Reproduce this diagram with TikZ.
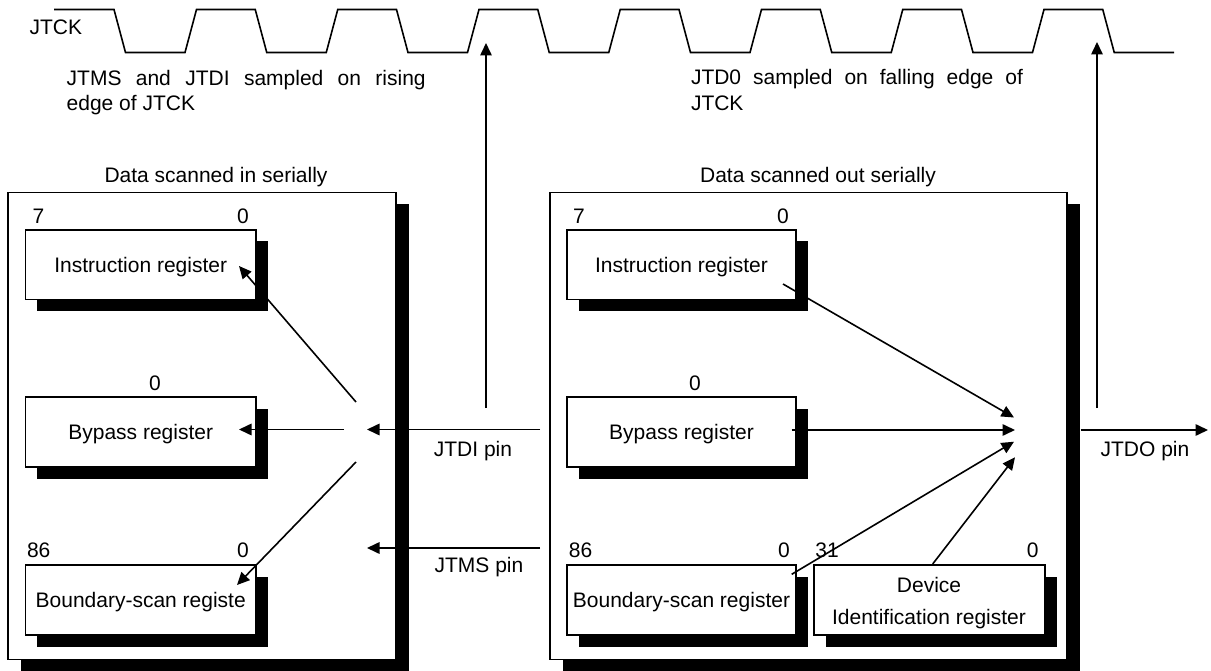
\documentclass[tikz,border=0pt]{standalone}
\usepackage{fontspec}
\setmainfont{Liberation Sans}
\usetikzlibrary{arrows.meta,shadows}
\begin{document}
\begin{tikzpicture}[x=1pt,y=-1pt,
  every node/.style={font=\fontsize{21}{25.5}\selectfont, inner sep=0pt, outer sep=0pt},
  bigbox/.style={draw, fill=white, line width=1.6pt,
    drop shadow={shadow xshift=12.5pt,shadow yshift=-11pt,fill=black,opacity=1}},
  regbase/.style={draw, fill=white, line width=1.6pt, minimum height=70pt,
    drop shadow={shadow xshift=11.5pt,shadow yshift=-11.5pt,fill=black,opacity=1}},
  regbox/.style={regbase, text height=15pt, text depth=0pt},
  arr/.style={line width=1.6pt, -{Triangle[length=12.5pt,width=11.5pt]}},
  lbl/.style={anchor=base},
]
\useasboundingbox (0,0) rectangle (1211,671);

% outer boxes
\node[bigbox, minimum width=388pt, minimum height=467pt] (inbox) at (202,426.1) {};
\node[bigbox, minimum width=517pt, minimum height=467pt] (outbox) at (808.5,426.1) {};
\node[lbl] (din) at (216,183) {Data scanned in serially};
\node[lbl] (dout) at (818,183) {Data scanned out serially};

% left registers
\node[regbox, minimum width=230.5pt, minimum height=69.5pt] (lir) at (140.75,264.75) {Instruction register};
\node[regbox, minimum width=230.5pt] (lbp) at (140.75,432) {Bypass register};
\node[regbox, minimum width=230.5pt] (lbs) at (140.75,600) {Boundary-scan registe};
\node[lbl] (l7) at (38.5,224) {7};
\node[lbl] (l0a) at (243,224) {0};
\node[lbl] (l0b) at (155,390.5) {0};
\node[lbl] (l86) at (38.7,557) {86};
\node[lbl] (l0c) at (243,557) {0};

% right registers
\node[regbox, minimum width=229pt, minimum height=69.5pt] (rir) at (681.5,264.75) {Instruction register};
\node[regbox, minimum width=229pt] (rbp) at (681.5,432) {Bypass register};
\node[regbox, minimum width=229pt] (rbs) at (681.5,600) {Boundary-scan register};
\node[regbase, minimum width=231pt] (dev) at (929.5,600) {};
\node[lbl] (devt1) at (929,592.5) {Device};
\node[lbl] (devt2) at (929,624.5) {Identification register};
\node[lbl] (r7) at (579,224) {7};
\node[lbl] (r0a) at (783,224) {0};
\node[lbl] (r0b) at (695,390.5) {0};
\node[lbl] (r86) at (580.5,557) {86};
\node[lbl] (r0c) at (784,557) {0};
\node[lbl] (r31) at (827,557) {31};
\node[lbl] (r0d) at (1032.7,557) {0};

% pin labels
\node[lbl] (jtdi) at (473,456.7) {JTDI pin};
\node[lbl] (jtms) at (479,572.7) {JTMS pin};
\node[lbl] (jtdo) at (1145,456) {JTDO pin};

% clock
\node[lbl] (jtck) at (55.8,35) {JTCK};
\node[anchor=base west] (p1a) at (66.7,86) {\makebox[359pt][s]{JTMS and JTDI sampled on rising}};
\node[anchor=base west] (p1b) at (66.7,111) {edge of JTCK};
\node[anchor=base west] (p2a) at (691,85) {\makebox[332pt][s]{JTD0 sampled on falling edge of}};
\node[anchor=base west] (p2b) at (691,111) {JTCK};

\draw[line width=1.6pt, line join=miter] (54,9.5)
  foreach \k in {0,...,6} { -- ({114+141.25*\k},9.5) -- ({125.5+141.25*\k},52.5)
  -- ({185+141.25*\k},52.5) -- ({196.5+141.25*\k},9.5) }
  -- (1102.75,9.5) -- (1114.25,52.5) -- (1174,52.5);

% coordinates for connectors
\coordinate (jl1) at (356,402);   \coordinate (tli) at (239,266);
\coordinate (jl2) at (344,429.5); \coordinate (tlb) at (239,429.5);
\coordinate (jl3) at (356,462);   \coordinate (tls) at (237,585);
\coordinate (tdiS) at (540,429.5); \coordinate (tdiE) at (367,429.5);
\coordinate (tmsS) at (540,548);   \coordinate (tmsE) at (367,548);
\coordinate (upLS) at (486,408);   \coordinate (upLE) at (486,43);
\coordinate (ri) at (783,284);     \coordinate (rit) at (1014,417.5);
\coordinate (rb) at (791.7,430);   \coordinate (rbt) at (1015,430);
\coordinate (rs) at (791.7,574.3); \coordinate (rst) at (1014,441.7);
\coordinate (rd) at (932.7,564);   \coordinate (rdt) at (1015,457.3);
\coordinate (doS) at (1080.7,430); \coordinate (doE) at (1208,430);
\coordinate (upRS) at (1097,408);  \coordinate (upRE) at (1097,42);

% left arrows
\draw[arr] (jl1) -- (tli);
\draw[arr] (jl2) -- (tlb);
\draw[arr] (jl3) -- (tls);
\draw[arr] (tdiS) -- (tdiE);
\draw[arr] (tmsS) -- (tmsE);
\draw[arr] (upLS) -- (upLE);
% right arrows
\draw[arr] (ri) -- (rit);
\draw[arr] (rb) -- (rbt);
\draw[arr] (rs) -- (rst);
\draw[arr] (rd) -- (rdt);
\draw[arr] (doS) -- (doE);
\draw[arr] (upRS) -- (upRE);
\end{tikzpicture}
\end{document}
